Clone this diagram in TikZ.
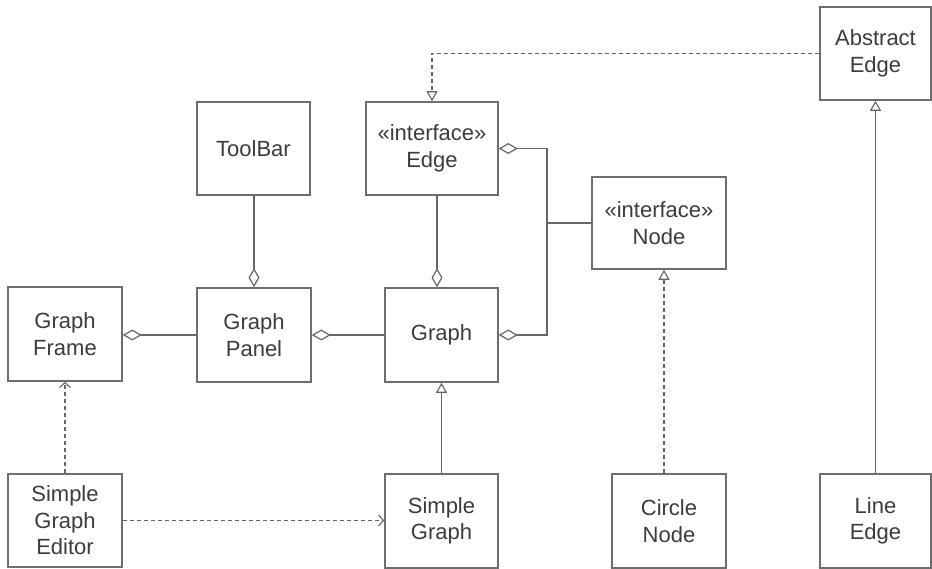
\documentclass[tikz,border=0pt]{standalone}
\usepackage{fontspec}
\setmainfont{Liberation Sans}
\usetikzlibrary{arrows.meta,calc}
\definecolor{boxc}{HTML}{6E6E6E}
\definecolor{linec}{HTML}{666666}
\definecolor{txtc}{HTML}{3C3C3C}
\begin{document}
\begin{tikzpicture}[x=1pt,y=-1pt,
  cls/.style={draw=boxc, line width=1.6pt, fill=white, align=center,
    font=\fontsize{22}{26.5}\selectfont, text=txtc, inner sep=0pt},
  assoc/.style={draw=linec, line width=1.3pt},
  agg/.style={assoc, -{Diamond[open,length=19pt,width=11pt,line width=1.2pt]}},
  inh/.style={assoc, -{Triangle[open,length=10pt,width=11pt,line width=1.1pt]}},
  real/.style={assoc, dash pattern=on 4pt off 3pt, -{Triangle[open,length=10pt,width=11pt,line width=1.1pt]}},
  dep/.style={assoc, dash pattern=on 4pt off 3pt, -{Straight Barb[length=5pt,width=11pt,line width=1.1pt]}}
]
\useasboundingbox (0,0) rectangle (932,569);
\fill[white] (0,0) rectangle (932,569);

% classes
\node[cls, minimum width=111pt, minimum height=93pt] (AbsEdge) at (875.5,53.5) {Abstract\\Edge};
\node[cls, minimum width=113pt, minimum height=93pt] (ToolBar) at (253.5,148.5) {ToolBar};
\node[cls, minimum width=132pt, minimum height=93pt] (Edge) at (432,148.5) {«interface»\\Edge};
\node[cls, minimum width=134pt, minimum height=92pt] (Node) at (659,223) {«interface»\\Node};
\node[cls, minimum width=114pt, minimum height=94pt] (Frame) at (65,334) {Graph\\Frame};
\node[cls, minimum width=114pt, minimum height=94pt] (Panel) at (254,335) {Graph\\Panel};
\node[cls, minimum width=113pt, minimum height=94pt] (Graph) at (441.5,335) {Graph};
\node[cls, minimum width=114pt, minimum height=93pt] (Editor) at (65,520.5) {Simple\\Graph\\Editor};
\node[cls, minimum width=113pt, minimum height=94pt] (SGraph) at (441.5,521) {Simple\\Graph};
\node[cls, minimum width=114pt, minimum height=94pt] (CNode) at (669,521) {Circle\\Node};
\node[cls, minimum width=111pt, minimum height=94pt] (LEdge) at (875.5,521) {Line\\Edge};

\coordinate (J) at (547,223);

% aggregations
\draw[agg] (ToolBar.south -| Panel.north) -- (Panel.north);
\draw[agg] (Panel.west) -- (Frame.east |- Panel.west);
\draw[agg] (Graph.west) -- (Panel.east |- Graph.west);
\draw[agg] ([xshift=-4.5pt]Graph.north |- Edge.south) -- ([xshift=-4.5pt]Graph.north);
\draw[assoc] (Node.west) -- (J);
\draw[agg] (J) |- (Edge.east);
\draw[agg] (J) |- (Graph.east);

% inheritance / realization
\draw[inh] (SGraph.north) -- (SGraph.north |- Graph.south);
\draw[inh] (LEdge.north) -- (AbsEdge.south);
\draw[real] ([xshift=-5pt]CNode.north) -- ([xshift=-5pt]CNode.north |- Node.south);
\draw[real] (AbsEdge.west) -| (Edge.north);

% dependencies
\draw[dep] (Editor.north) -- (Frame.south);
\draw[dep] (Editor.east) -- (SGraph.west |- Editor.east);
\end{tikzpicture}
\end{document}
